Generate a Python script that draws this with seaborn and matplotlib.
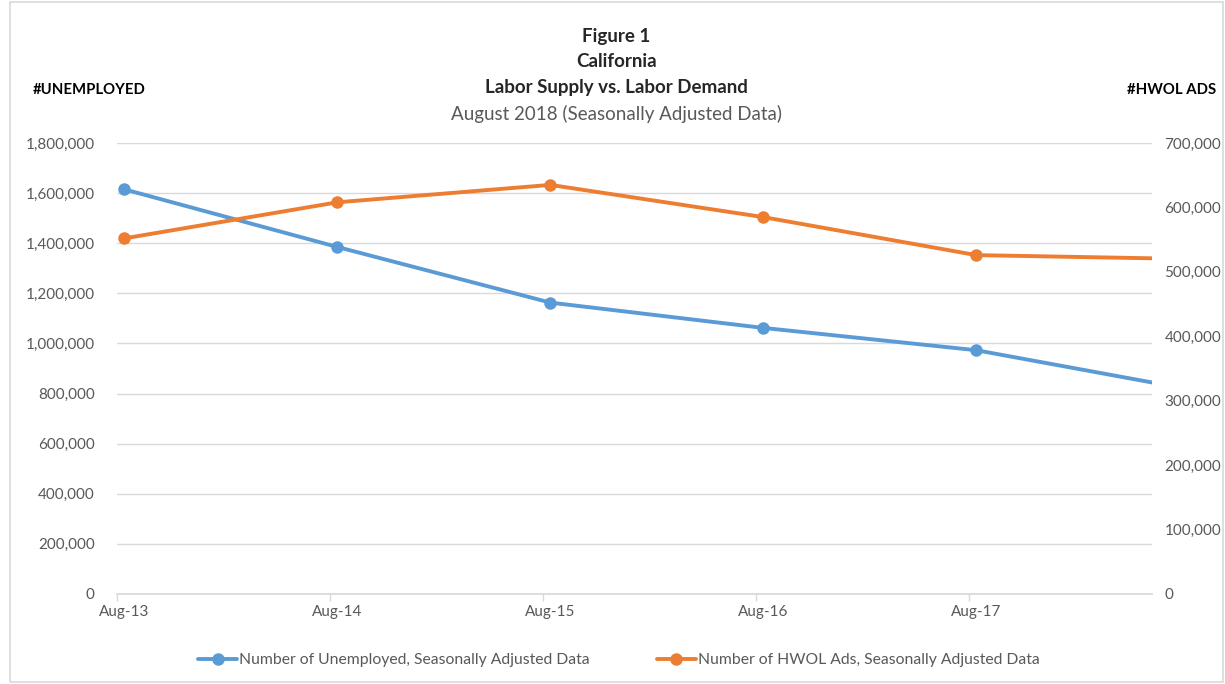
import numpy as np
import pandas as pd
import matplotlib
matplotlib.use("Agg")
import matplotlib.pyplot as plt
import seaborn as sns
from matplotlib.ticker import FuncFormatter, FixedLocator

# ─── Données ─────────────────────────────────────────────────────────────────
periods    = ["Aug-13", "Aug-14", "Aug-15", "Aug-16", "Aug-17", "Aug-18"]
unemployed = [1615000, 1385000, 1163000, 1062000, 973000, 817000]
hwol_ads   = [552000, 608000, 635000, 585000, 526000, 520000]

BLUE   = "#5b9bd5"
ORANGE = "#ed7d31"
GRID   = "#d9d9d9"
TXT    = "#595959"

sns.set_theme(style="white")
plt.rcParams["font.family"] = ["Lato", "DejaVu Sans"]

# position de chaque point sur l'axe des dates (1 unité = 1 an)
xpos = np.arange(len(periods)) + 0.035
df = pd.DataFrame({"x": xpos, "unemployed": unemployed, "hwol": hwol_ads})

fig = plt.figure(figsize=(12.25, 6.84), dpi=100)
ax = fig.add_axes([0.0955, 0.1316, 0.8449, 0.6593])
ax2 = ax.twinx()

sns.lineplot(data=df, x="x", y="unemployed", ax=ax, color=BLUE, lw=2.8,
             marker="o", markersize=9, markeredgewidth=0,
             label="Number of Unemployed, Seasonally Adjusted Data", legend=False)
sns.lineplot(data=df, x="x", y="hwol", ax=ax2, color=ORANGE, lw=2.8,
             marker="o", markersize=9, markeredgewidth=0,
             label="Number of HWOL Ads, Seasonally Adjusted Data", legend=False)

ax.set_xlim(0, 4.86)
ax.set_ylim(0, 1800000)
ax2.set_ylim(0, 700000)
ax.set_yticks(np.arange(0, 1800001, 200000))
ax2.set_yticks(np.arange(0, 700001, 100000))
fmt = FuncFormatter(lambda v, _: f"{int(v):,}")
ax.yaxis.set_major_formatter(fmt)
ax2.yaxis.set_major_formatter(fmt)

ax.set_xticks(xpos[:5])
ax.set_xticklabels(periods[:5])
ax.xaxis.set_minor_locator(FixedLocator(np.arange(0, 5)))
ax.tick_params(axis="x", which="major", length=0, pad=8, labelsize=11, labelcolor=TXT)
ax.tick_params(axis="x", which="minor", length=5, color=GRID, width=1, direction="out", bottom=True)
ax.tick_params(axis="y", length=0, pad=16, labelsize=11, labelcolor=TXT)
ax2.tick_params(axis="y", length=0, pad=9, labelsize=11, labelcolor=TXT)

ax.grid(True, axis="y", color=GRID, lw=1)
ax.set_axisbelow(True)
for a in (ax, ax2):
    for s in a.spines.values():
        s.set_visible(False)
ax.spines["bottom"].set_visible(True)
ax.spines["bottom"].set_color(GRID)
ax.set_xlabel("")
ax.set_ylabel("")
ax2.set_ylabel("")

# ─── Titres ──────────────────────────────────────────────────────────────────
fig.text(0.503, 0.946, "Figure 1", ha="center", va="center",
         fontsize=13.5, fontweight="bold", color="#262626")
fig.text(0.503, 0.910, "California", ha="center", va="center",
         fontsize=13.5, fontweight="bold", color="#262626")
fig.text(0.503, 0.872, "Labor Supply vs. Labor Demand", ha="center", va="center",
         fontsize=13.5, fontweight="bold", color="#262626")
fig.text(0.503, 0.834, "August 2018 (Seasonally Adjusted Data)", ha="center", va="center",
         fontsize=13.5, color=TXT)
fig.text(0.027, 0.868, "#UNEMPLOYED", ha="left", va="center",
         fontsize=10.7, fontweight="bold", color="black")
fig.text(0.993, 0.868, "#HWOL ADS", ha="right", va="center",
         fontsize=10.7, fontweight="bold", color="black")

# ─── Légende ─────────────────────────────────────────────────────────────────
h1, l1 = ax.get_legend_handles_labels()
h2, l2 = ax2.get_legend_handles_labels()
fig.legend(h1 + h2, l1 + l2, loc="center", bbox_to_anchor=(0.505, 0.035),
           ncol=2, frameon=False, fontsize=11.3, labelcolor=TXT,
           handlelength=2.5, handletextpad=0.1, columnspacing=4.3)

# cadre gris autour du graphique
fig.patches.append(plt.Rectangle((0.008, 0.003), 0.990, 0.994, transform=fig.transFigure,
                                 fill=False, edgecolor=GRID, lw=1.2))

fig.savefig("out.png", dpi=100, facecolor="white")
